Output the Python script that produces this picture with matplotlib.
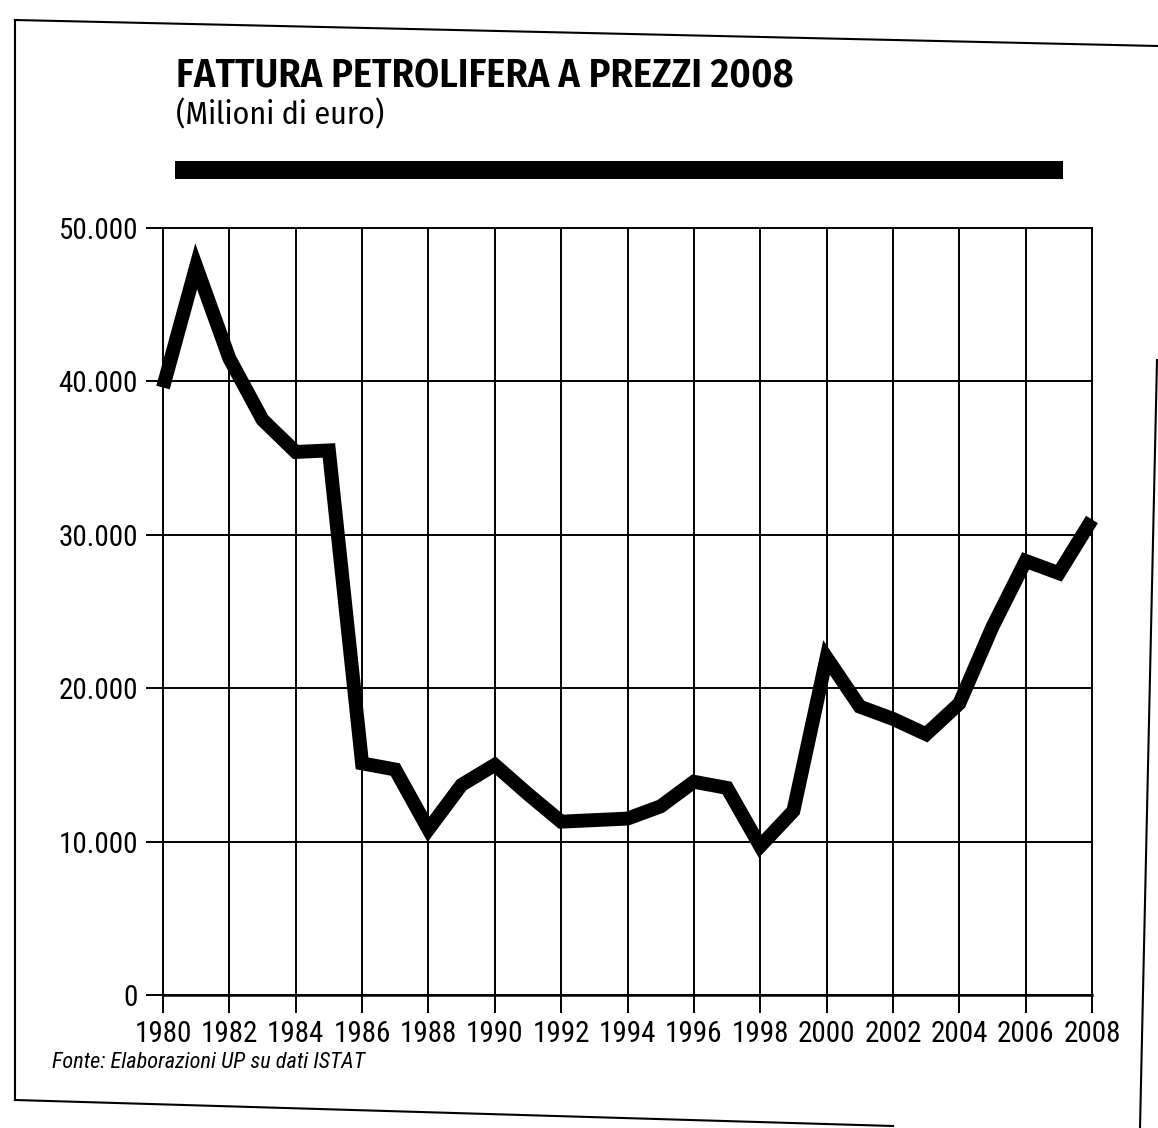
import matplotlib
matplotlib.use("Agg")
import matplotlib.pyplot as plt
from matplotlib.ticker import FuncFormatter
from matplotlib.patches import Rectangle
from matplotlib.lines import Line2D
from matplotlib import font_manager as fm

years = list(range(1980, 2009))
values = [39600, 47500, 41500, 37500, 35400, 35500, 15100, 14700, 10800, 13700,
          15000, 13100, 11300, 11400, 11500, 12300, 13900, 13500, 9700, 12000,
          22000, 18800, 18000, 17000, 19000, 24000, 28300, 27500, 31000]
x_ticks = list(range(1980, 2009, 2))
y_ticks = [0, 10000, 20000, 30000, 40000, 50000]

title = "FATTURA PETROLIFERA A PREZZI 2008"
subtitle = "(Milioni di euro)"
source = "Fonte: Elaborazioni UP su dati ISTAT"

W, H = 1158, 1128
fig = plt.figure(figsize=(W / 100, H / 100), dpi=100)
fig.patch.set_facecolor("white")

ttf = fm.fontManager.ttflist

def pick(cands, weights=None, style="normal", default="DejaVu Sans"):
    for c in cands:
        for f in ttf:
            if f.name == c and f.style == style and (weights is None or f.weight in weights):
                return c
    return default

narrow_fam = pick(["Roboto Condensed", "Archivo Narrow", "PT Sans Narrow",
                   "Liberation Sans Narrow", "Arimo"])
title_fam = pick(["Fira Sans Condensed", "Source Sans Pro", "PT Sans Narrow",
                  "Open Sans"], weights=(600, "semibold", 700, "bold"))
title_w = "semibold" if title_fam in ("Fira Sans Condensed", "Source Sans Pro") else "bold"
narrow = [narrow_fam, "DejaVu Sans"]
titlef = [title_fam, "DejaVu Sans"]

def px(x, y):
    return x / W, 1 - y / H

def fig_line(p0, p1, lw=1.5):
    (x0, y0), (x1, y1) = px(*p0), px(*p1)
    fig.add_artist(Line2D([x0, x1], [y0, y1], transform=fig.transFigure,
                          color="black", lw=lw))

# scanned page frame
fig_line((15, 20), (1158, 46))
fig_line((15, 20), (15, 1100))
fig_line((15, 1100), (893, 1126))
fig_line((1157, 360), (1140, 1128))

ax = fig.add_axes([163 / W, 1 - 995 / H, (1092 - 163) / W, (995 - 228) / H])
ax.plot(years, values, color="black", lw=10, solid_joinstyle="miter",
        solid_capstyle="butt", zorder=3, clip_on=False)
ax.set_xlim(1980, 2008)
ax.set_ylim(0, 50000)
ax.set_xticks(x_ticks)
ax.set_yticks(y_ticks)
ax.yaxis.set_major_formatter(FuncFormatter(lambda v, p: "0" if v == 0 else f"{int(v):,}".replace(",", ".")))
ax.grid(True, color="black", lw=1.4)
for gl in ax.get_xgridlines() + ax.get_ygridlines():
    gl.set_clip_on(False)
for s in ["top", "right", "left"]:
    ax.spines[s].set_visible(False)
ax.spines["bottom"].set_linewidth(1.8)
ax.tick_params(axis="x", direction="out", length=13, width=1.4, color="black", pad=5)
ax.tick_params(axis="y", direction="out", length=12, width=1.4, color="black", pad=6)
for lab in ax.get_xticklabels() + ax.get_yticklabels():
    lab.set_family(narrow)
    lab.set_fontsize(21)

fig.canvas.draw()
r = fig.canvas.get_renderer()

def fit(txt, target_w, size):
    w = txt.get_window_extent(r).width
    txt.set_fontsize(size * target_w / w)

t = fig.text(176 / W, 1 - 88 / H, title, family=titlef,
             fontweight=title_w, fontsize=30, ha="left", va="baseline")
fit(t, 795 - 176, 30)

st = fig.text(176 / W, 1 - 124 / H, subtitle, family=titlef,
              fontsize=16, ha="left", va="baseline")
fit(st, 385 - 176, 16)

fig.add_artist(Rectangle(px(175, 179), (1063 - 175) / W, 18 / H,
                         transform=fig.transFigure, color="black", lw=0))

src = fig.text(52 / W, 1 - 1068 / H, source, family=narrow, style="italic",
               fontsize=16, ha="left", va="baseline")
fit(src, 366 - 52, 16)

fig.savefig("out.png", dpi=100, facecolor="white")
